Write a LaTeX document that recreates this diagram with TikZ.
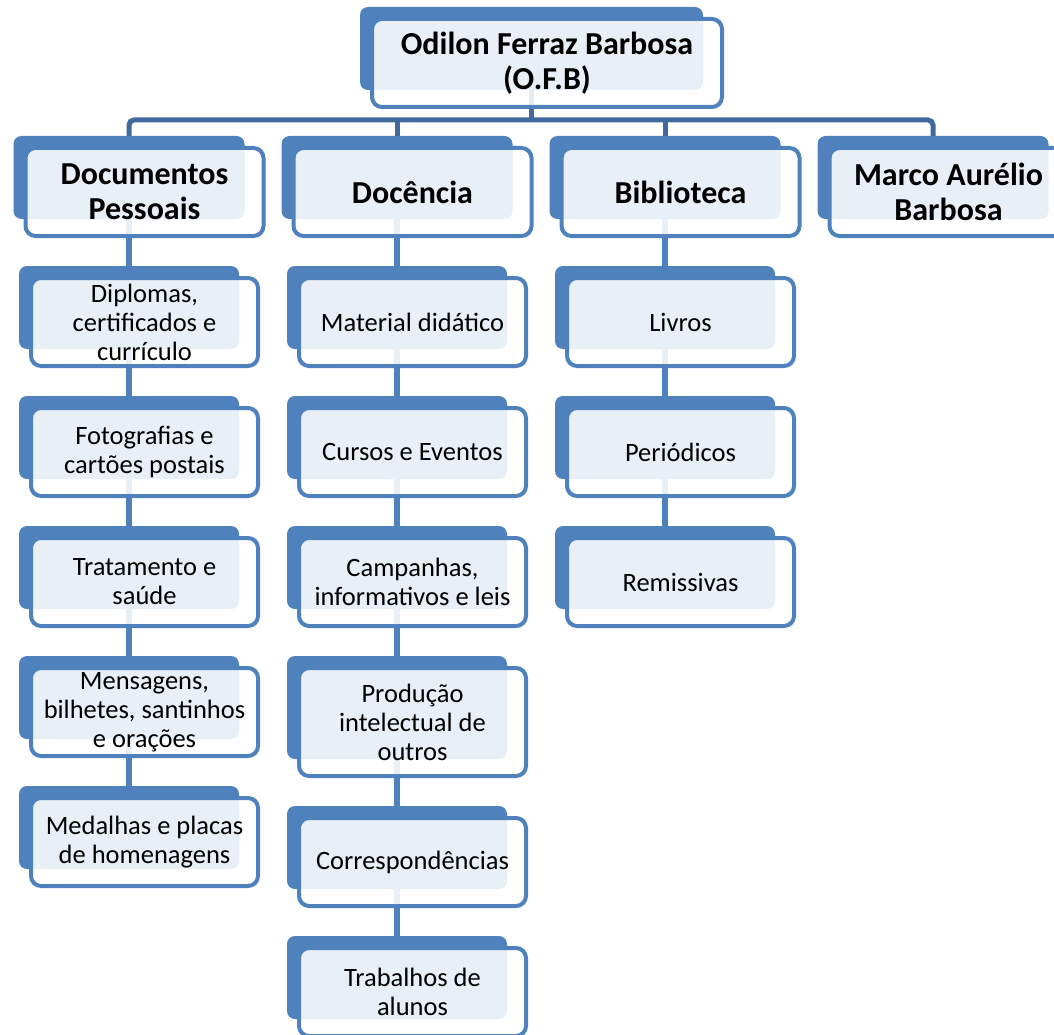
\documentclass[tikz,border=0pt]{standalone}
\usepackage{fontspec}
\setmainfont{Carlito}
\pgfdeclarelayer{bg}
\pgfsetlayers{bg,main}
\definecolor{accent}{HTML}{4F81BD}
\definecolor{busc}{HTML}{41699E}
\tikzset{
  backbox/.style={draw=none, fill=accent, rounded corners=8pt, inner sep=0pt, outer sep=0pt},
  frontbox/.style={draw=accent, line width=4pt, fill=white, fill opacity=0.88, text opacity=1,
    rounded corners=10pt, align=center, inner sep=0pt},
  childtext/.style={font=\fontsize{26.5}{29}\selectfont},
  headtext/.style={font=\bfseries\fontsize{32}{35}\selectfont},
  busline/.style={draw=busc, line width=5pt},
  colline/.style={draw=accent, line width=5.5pt},
}
% #1 name, #2 centre x, #3 top y, #4 width, #5 height, #6 text style, #7 text
\newcommand\orgbox[7]{%
  \node[backbox, minimum width={#4*1pt}, minimum height={#5*1pt}] (#1b) at (#2, {#3+#5/2}) {};
  \node[frontbox, #6, minimum width={(#4+7)*1pt}, minimum height={(#5+5)*1pt}]
    (#1) at ({#2+15.5}, {#3+#5/2+14.5}) {#7};
}
\begin{document}
\begin{tikzpicture}[x=1pt, y=-1pt]
\useasboundingbox (0,0) rectangle (1054,1035);
\clip (0,0) rectangle (1054,1035);
\coordinate (bus) at (0,120);

% top
\orgbox{top}{531.5}{7}{343}{83}{headtext}{Odilon Ferraz Barbosa\\(O.F.B)}

% headers
\orgbox{h1}{129}{136}{231}{83}{headtext}{Documentos\\Pessoais}
\orgbox{h2}{397}{136}{231}{83}{headtext}{Docência}
\orgbox{h3}{665}{136}{231}{83}{headtext}{Biblioteca}
\orgbox{h4}{933}{136}{231}{83}{headtext}{Marco Aurélio\\Barbosa}

% column 1
\orgbox{a1}{129}{266}{220}{83}{childtext}{Diplomas,\\certificados e\\currículo}
\orgbox{a2}{129}{396}{220}{83}{childtext}{Fotografias e\\cartões postais}
\orgbox{a3}{129}{526}{220}{83}{childtext}{Tratamento e\\saúde}
\orgbox{a4}{129}{656}{220}{83}{childtext}{Mensagens,\\bilhetes, santinhos\\e orações}
\orgbox{a5}{129}{786}{220}{83}{childtext}{Medalhas e placas\\de homenagens}

% column 2
\orgbox{b1}{397}{266}{220}{83}{childtext}{Material didático}
\orgbox{b2}{397}{396}{220}{83}{childtext}{Cursos e Eventos}
\orgbox{b3}{397}{526}{220}{83}{childtext}{Campanhas,\\informativos e leis}
\orgbox{b4}{397}{656}{220}{103}{childtext}{Produção\\intelectual de\\outros}
\orgbox{b5}{397}{806}{220}{83}{childtext}{Correspondências}
\orgbox{b6}{397}{936}{220}{83}{childtext}{Trabalhos de\\alunos}

% column 3
\orgbox{c1}{665}{266}{220}{83}{childtext}{Livros}
\orgbox{c2}{665}{396}{220}{83}{childtext}{Periódicos}
\orgbox{c3}{665}{526}{220}{83}{childtext}{Remissivas}

\begin{pgfonlayer}{bg}
  \draw[busline] (topb.center) -- (topb.center |- bus);
  \draw[busline, rounded corners=5pt] (h1b.center) -- (h1b.center |- bus) -- (h4b.center |- bus) -- (h4b.center);
  \draw[busline] (h2b.center |- bus) -- (h2b.center);
  \draw[busline] (h3b.center |- bus) -- (h3b.center);
  \draw[colline] (h1b.center) -- (a5b.center);
  \draw[colline] (h2b.center) -- (b6b.center);
  \draw[colline] (h3b.center) -- (c3b.center);
\end{pgfonlayer}
\end{tikzpicture}
\end{document}
